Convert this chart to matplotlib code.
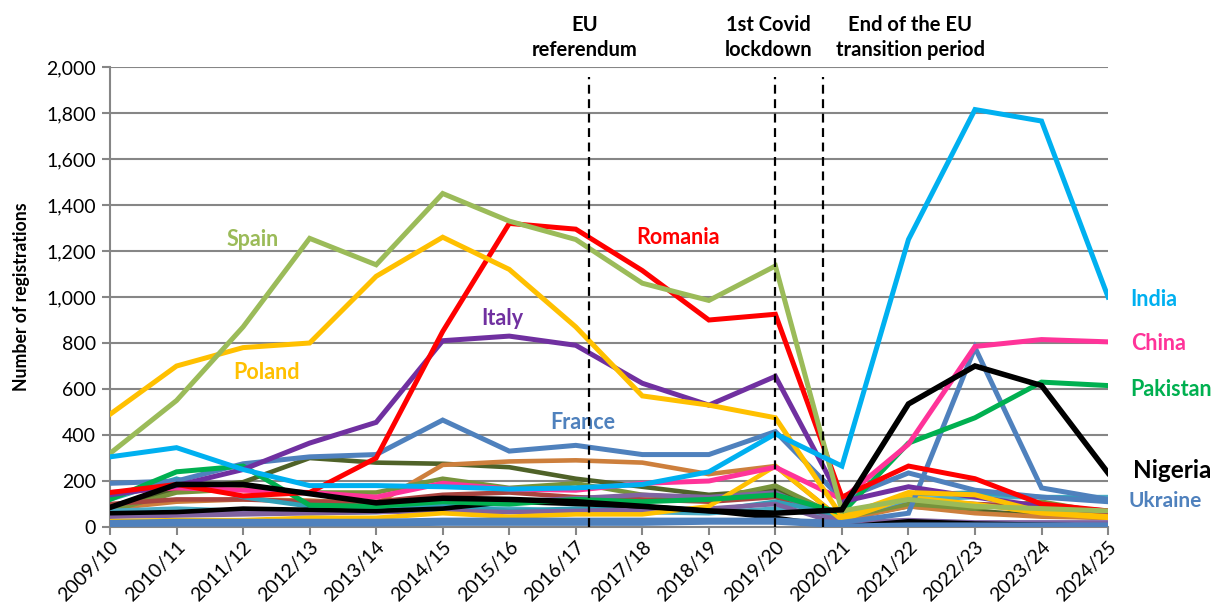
import matplotlib.pyplot as plt
from matplotlib.ticker import FuncFormatter, MultipleLocator

plt.rcParams["font.family"] = ["Lato", "DejaVu Sans"]

years = ["2009/10", "2010/11", "2011/12", "2012/13", "2013/14", "2014/15",
         "2015/16", "2016/17", "2017/18", "2018/19", "2019/20", "2020/21",
         "2021/22", "2022/23", "2023/24", "2024/25"]

# labelled countries
india = [305, 345, 250, 180, 180, 175, 165, 170, 185, 240, 405, 265, 1250, 1815, 1765, 1000]
spain = [320, 550, 870, 1255, 1140, 1450, 1330, 1250, 1060, 985, 1135, 70, 120, 90, 80, 70]
poland = [490, 700, 780, 800, 1090, 1260, 1120, 870, 570, 530, 475, 45, 150, 140, 65, 45]
romania = [150, 185, 135, 150, 300, 850, 1320, 1295, 1115, 900, 925, 130, 265, 210, 100, 70]
italy = [140, 180, 250, 365, 455, 810, 830, 790, 625, 530, 655, 110, 175, 130, 90, 70]
france = [190, 200, 275, 305, 315, 465, 330, 355, 315, 315, 415, 120, 235, 160, 130, 110]
china = [150, 170, 160, 150, 130, 190, 165, 160, 190, 200, 260, 120, 360, 785, 815, 805]
pakistan = [120, 240, 265, 95, 90, 110, 100, 120, 110, 120, 140, 60, 365, 475, 630, 615]
nigeria = [85, 185, 185, 145, 105, 125, 120, 110, 90, 70, 60, 75, 535, 700, 615, 235]
ukraine = [20, 25, 25, 25, 25, 30, 30, 30, 30, 30, 30, 20, 60, 780, 170, 120]

# unlabelled countries
other_olive = [90, 165, 195, 300, 280, 275, 260, 210, 175, 140, 160, 40, 90, 70, 50, 40]
other_orange = [80, 110, 120, 115, 100, 270, 285, 290, 280, 230, 265, 30, 90, 60, 45, 40]
other_green = [70, 150, 165, 150, 150, 210, 170, 190, 140, 120, 180, 40, 100, 80, 110, 60]
other_purple = [50, 60, 60, 70, 70, 90, 110, 125, 140, 130, 150, 20, 30, 20, 20, 20]
other_teal = [120, 210, 130, 90, 80, 100, 70, 80, 75, 70, 110, 50, 140, 150, 130, 120]
other_red = [100, 120, 120, 110, 110, 140, 150, 130, 120, 110, 130, 40, 120, 100, 90, 50]
other_yellow = [25, 30, 30, 40, 40, 60, 45, 55, 55, 90, 265, 30, 130, 100, 60, 40]
other_blue = [10, 12, 12, 12, 12, 15, 15, 15, 15, 20, 20, 5, 10, 10, 10, 10]
other_black = [60, 65, 80, 75, 70, 80, 110, 100, 90, 70, 40, 0, 25, 15, 10, 5]
other_lilac = [45, 50, 55, 60, 65, 70, 65, 70, 75, 80, 100, 10, 20, 10, 10, 10]
other_cyan = [70, 80, 70, 60, 65, 80, 80, 70, 65, 60, 80, 40, 120, 130, 130, 130]

events = ["EU\nreferendum", "1st Covid\nlockdown", "End of the EU\ntransition period"]
event_pos = [7.2, 10.0, 10.72]
event_text_x = [7.13, 9.9, 12.03]

background = [
    (other_olive, "#4F6228"), (other_orange, "#CD7F3C"), (other_green, "#77933C"),
    (other_red, "#A9443F"), (other_cyan, "#4BACC6"), (other_purple, "#8064A2"),
    (other_teal, "#31A0B8"), (other_lilac, "#7F62A0"), (other_yellow, "#FFC000"),
    (other_black, "#000000"), (other_blue, "#4F81BD"),
]

# series, colour, label, label x (category units), label y (data units), label size
highlight = [
    (ukraine, "#4F81BD", "Ukraine", 15.86, 115, 15),
    (france, "#4F81BD", "France", 7.1, 455, 15.5),
    (pakistan, "#00B050", "Pakistan", 15.95, 600, 15.5),
    (china, "#FF3399", "China", 15.76, 800, 15.5),
    (italy, "#7030A0", "Italy", 5.9, 905, 15.5),
    (romania, "#FF0000", "Romania", 8.53, 1260, 15.5),
    (poland, "#FFC000", "Poland", 2.35, 670, 15.5),
    (spain, "#9BBB59", "Spain", 2.15, 1250, 15.5),
    (nigeria, "#000000", "Nigeria", 15.97, 245, 17.5),
    (india, "#00B0F0", "India", 15.68, 990, 15.5),
]

fig = plt.figure(figsize=(12.13, 6.08), dpi=100)
ax = fig.add_axes([0.0907, 0.1332, 0.8228, 0.7566])

x = list(range(len(years)))
for vals, col in background:
    ax.plot(x, vals, color=col, lw=3.3, solid_joinstyle="miter", zorder=3)

for vals, col, name, lx, ly, fs in highlight:
    lw = 4.0 if name == "Nigeria" else 3.6
    ax.plot(x, vals, color=col, lw=lw, solid_joinstyle="miter", zorder=4)
    ax.text(lx, ly, name, color=col, fontsize=fs, fontweight="bold",
            ha="center", va="center", clip_on=False)

for pos, tx, txt in zip(event_pos, event_text_x, events):
    ax.vlines(pos, 0, 1955, colors="black", linestyles=(0, (4, 2.5)), lw=1.6, zorder=6)
    ax.text(tx, 2030, txt, ha="center", va="bottom", fontsize=14.5,
            fontweight="bold", linespacing=1.3)

ax.set_xlim(0, 15)
ax.set_ylim(0, 2000)
ax.set_xticks(x)
ax.set_xticklabels(years, rotation=45, ha="right", rotation_mode="anchor", fontsize=14)
ax.yaxis.set_major_locator(MultipleLocator(200))
ax.yaxis.set_major_formatter(FuncFormatter(lambda v, p: f"{int(v):,}"))
ax.tick_params(axis="y", labelsize=14, length=6, width=1.5, color="#868686", pad=4)
ax.tick_params(axis="x", length=6, width=1.5, color="#868686", pad=2)
ax.grid(axis="y", color="#868686", lw=1.5, zorder=0)
ax.set_axisbelow(True)
for side in ["top", "right"]:
    ax.spines[side].set_visible(False)
for side in ["left", "bottom"]:
    ax.spines[side].set_color("#868686")
    ax.spines[side].set_linewidth(1.5)
ax.set_ylabel("Number of registrations", fontsize=12.7, fontweight="bold", labelpad=12)

fig.savefig("out.png", dpi=100)
